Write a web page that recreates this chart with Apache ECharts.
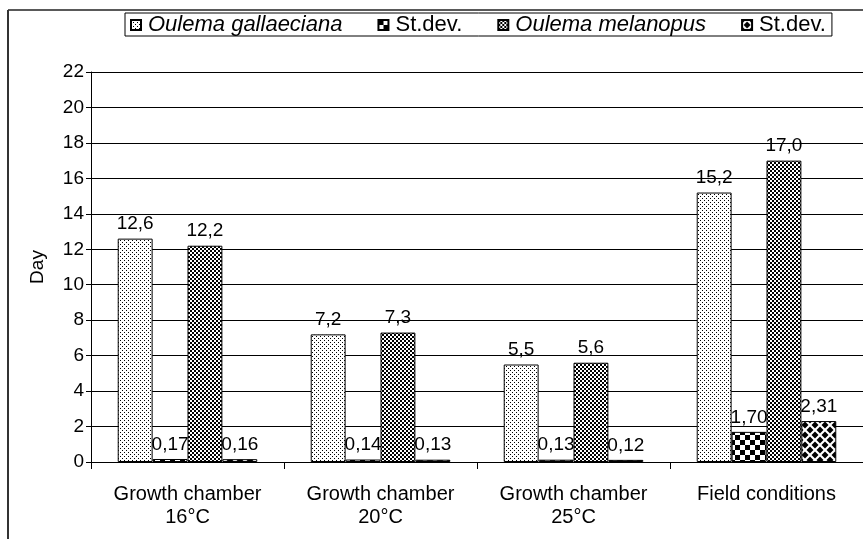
<!DOCTYPE html>
<html>
<head>
<meta charset="utf-8">
<script src="https://cdn.jsdelivr.net/npm/echarts@6/dist/echarts.min.js"></script>
<style>
  html, body { margin: 0; padding: 0; background: #fff; }
  #chart { width: 863px; height: 539px; }
</style>
</head>
<body>
<div id="chart"></div>
<script>
// Development time (days) of the two cereal leaf beetle species
const categories = ['Growth chamber\n16°C', 'Growth chamber\n20°C', 'Growth chamber\n25°C', 'Field conditions'];
const gallaeciana = [12.6, 7.2, 5.5, 15.2];
const gallaecianaSd = [0.17, 0.14, 0.13, 1.70];
const melanopus = [12.2, 7.3, 5.6, 17.0];
const melanopusSd = [0.16, 0.13, 0.12, 2.31];
const yMin = 0, yMax = 22, yStep = 2;

const FONT = 'Liberation Sans, Arial, sans-serif';
const FS = 19;      // value labels and y axis
const FS_CAT = 20;  // category labels
const FS_LEG = 22;  // legend

// Small repeating fill tiles (black on white)
function tile(w, h, draw) {
  const c = document.createElement('canvas');
  c.width = w; c.height = h;
  const g = c.getContext('2d');
  g.fillStyle = '#fff';
  g.fillRect(0, 0, w, h);
  g.fillStyle = '#000';
  draw(g);
  return { image: c, repeat: 'repeat' };
}
// fine light stipple
const fillLight = tile(4, 4, g => { g.fillRect(0, 0, 1, 1); g.fillRect(2, 2, 1, 1); });
// coarse dark dots
const fillDark = tile(4, 4, g => { g.fillRect(0, 0, 2, 2); g.fillRect(2, 2, 2, 2); });
// checkerboard
const fillChecker = tile(10, 10, g => { g.fillRect(0, 0, 5, 5); g.fillRect(5, 5, 5, 5); });
// diamonds
const fillDiamond = tile(10, 10, g => {
  const d = (cx, cy, r) => { g.beginPath(); g.moveTo(cx, cy - r); g.lineTo(cx + r, cy); g.lineTo(cx, cy + r); g.lineTo(cx - r, cy); g.closePath(); g.fill(); };
  d(0, 0, 3.5); d(10, 0, 3.5); d(0, 10, 3.5); d(10, 10, 3.5); d(5, 5, 3.5);
});

const comma = (v, dp) => v.toFixed(dp).replace('.', ',');

function barSeries(name, data, fill, dp) {
  return {
    name, type: 'bar', data,
    barGap: '0%', barCategoryGap: '27.7%',
    itemStyle: { color: fill, borderColor: '#000', borderWidth: 1 },
    label: {
      show: true, position: 'top', distance: 5,
      fontFamily: FONT, fontSize: FS, color: '#000',
      formatter: p => comma(p.value, dp)
    }
  };
}

const chart = echarts.init(document.getElementById('chart'), null, { renderer: 'canvas' });
chart.setOption({
  animation: false,
  backgroundColor: '#fff',
  textStyle: { fontFamily: FONT },
  graphic: [
    { type: 'line', shape: { x1: 8, y1: 10, x2: 863, y2: 10 }, style: { stroke: '#222', lineWidth: 1.5 } },
    { type: 'line', shape: { x1: 8, y1: 10, x2: 8, y2: 539 }, style: { stroke: '#333', lineWidth: 2 } }
  ],
  legend: {
    left: 125, top: 13,
    padding: [1, 6, 0, 5],
    icon: 'rect',
    itemGap: 35, itemWidth: 10, itemHeight: 10,
    borderColor: '#000', borderWidth: 1,
    textStyle: {
      fontFamily: FONT, fontSize: FS_LEG, color: '#000', padding: [0, 0, 0, 2],
      rich: { it: { fontStyle: 'italic', fontFamily: FONT, fontSize: FS_LEG, color: '#000' } }
    },
    formatter: n => n.startsWith('sd') ? 'St.dev.' : '{it|' + n + '}',
    data: ['Oulema gallaeciana', 'sd1', 'Oulema melanopus', 'sd2']
  },
  grid: { left: 91, right: -3, top: 72, bottom: 77, containLabel: false },
  xAxis: {
    type: 'category', data: categories,
    axisLine: { lineStyle: { color: '#000', width: 1 } },
    axisTick: { show: true, length: 7, lineStyle: { color: '#000' } },
    axisLabel: { fontFamily: FONT, fontSize: FS_CAT, color: '#000', margin: 21, lineHeight: 23, interval: 0 }
  },
  yAxis: {
    type: 'value', min: yMin, max: yMax, interval: yStep,
    name: 'Day', nameLocation: 'middle', nameGap: 44, nameRotate: 90,
    nameTextStyle: { fontFamily: FONT, fontSize: FS, color: '#000' },
    axisLine: { show: true, lineStyle: { color: '#000', width: 1 } },
    axisTick: { show: true, length: 5, lineStyle: { color: '#000' } },
    axisLabel: { fontFamily: FONT, fontSize: FS, color: '#000', margin: 7 },
    splitLine: { lineStyle: { color: '#000', width: 1 } }
  },
  series: [
    barSeries('Oulema gallaeciana', gallaeciana, fillLight, 1),
    barSeries('sd1', gallaecianaSd, fillChecker, 2),
    barSeries('Oulema melanopus', melanopus, fillDark, 1),
    barSeries('sd2', melanopusSd, fillDiamond, 2)
  ]
});
</script>
</body>
</html>
